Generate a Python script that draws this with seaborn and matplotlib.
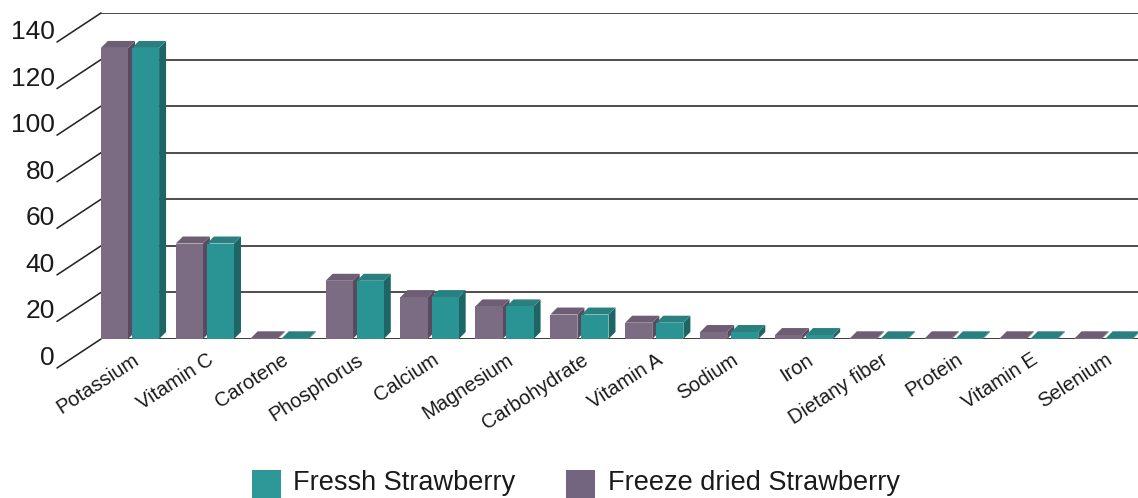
import numpy as np
import pandas as pd
import matplotlib
matplotlib.use("Agg")
import matplotlib.pyplot as plt
import seaborn as sns
from matplotlib.patches import Polygon, Rectangle
from matplotlib.transforms import ScaledTranslation

# ---------------- data ----------------
categories = ["Potassium", "Vitamin C", "Carotene", "Phosphorus", "Calcium",
              "Magnesium", "Carbohydrate", "Vitamin A", "Sodium", "Iron",
              "Dietany fiber", "Protein", "Vitamin E", "Selenium"]
freeze_dried = [125, 41, 0.3, 25, 18, 14, 10.5, 7, 3, 1.7, 0.3, 0.3, 0.3, 0.3]
fresh = [125, 41, 0.3, 25, 18, 14, 10.5, 7, 3, 1.7, 0.3, 0.3, 0.3, 0.3]
y_ticks = [0, 20, 40, 60, 80, 100, 120, 140]
series_fresh = "Fressh Strawberry"
series_freeze = "Freeze dried Strawberry"

# ---------------- style ----------------
W, H = 1138, 498
FRESH = "#2a9494"
FREEZE = "#7b6c83"
FRESH_TOP, FRESH_SIDE = "#2a8080", "#1d6665"
FREEZE_TOP, FREEZE_SIDE = "#6d5e74", "#584b5f"
GRID = "#262626"

df = pd.DataFrame({
    "nutrient": categories * 2,
    "value": freeze_dried + fresh,
    "type": [series_freeze] * len(categories) + [series_fresh] * len(categories),
})

sns.set_theme(style="white")
plt.rcParams["font.family"] = ["Liberation Sans", "DejaVu Sans"]

fig = plt.figure(figsize=(W / 100, H / 100), dpi=100)
ax_left, ax_right, ax_bottom, ax_top = 101, 1138, 339, 13
ax = fig.add_axes([ax_left / W, 1 - ax_bottom / H,
                   (ax_right - ax_left) / W, (ax_bottom - ax_top) / H])

sns.barplot(data=df, x="nutrient", y="value", hue="type",
            hue_order=[series_freeze, series_fresh],
            palette={series_freeze: FREEZE, series_fresh: FRESH},
            width=0.83, gap=0.128, saturation=1, legend=False,
            errorbar=None, linewidth=0, ax=ax)

xl, xr = -0.387, 13.458
ax.set_xlim(xl, xr)
ax.set_ylim(0, 140)
ppx = (ax_right - ax_left) / (xr - xl)
ppy = (ax_bottom - ax_top) / 140.0

for s in ax.spines.values():
    s.set_visible(False)
ax.set_xticks([])
ax.set_yticks([])
ax.set_xlabel("")
ax.set_ylabel("")
ax.patch.set_alpha(0)

# back-wall gridlines + diagonal side-wall ticks + labels
for t in y_ticks:
    ax.axhline(t, color=GRID if t > 0 else "#3a3a3a", lw=1.15 if t > 0 else 1.4, zorder=0.5)
    ax.plot([xl - 44 / ppx, xl], [t - 29 / ppy, t], color=GRID, lw=1.15,
            clip_on=False, zorder=0.5)
    ax.text(xl - 46 / ppx, t - 19 / ppy, str(t), ha="right", va="center",
            fontsize=19, color="#1a1a1a", clip_on=False)

# pseudo-3D faces
dx, dy = 7 / ppx, 7 / ppy
bars = sorted([p for p in ax.patches if isinstance(p, Rectangle)], key=lambda p: p.get_x())
for i, p in enumerate(bars):
    x0, w, h = p.get_x(), p.get_width(), p.get_height()
    fc = matplotlib.colors.to_hex(p.get_facecolor())
    is_fresh = fc.lower() == FRESH.lower()
    top_c = FRESH_TOP if is_fresh else FREEZE_TOP
    side_c = FRESH_SIDE if is_fresh else FREEZE_SIDE
    z = 2 + i * 0.01
    p.set_zorder(z + 0.002)
    side = Polygon([(x0 + w, 0), (x0 + w + dx, dy), (x0 + w + dx, h + dy), (x0 + w, h)],
                   closed=True, facecolor=side_c, edgecolor="none", zorder=z, clip_on=False)
    top = Polygon([(x0, h), (x0 + w, h), (x0 + w + dx, h + dy), (x0 + dx, h + dy)],
                  closed=True, facecolor=top_c, edgecolor="none", zorder=z + 0.001, clip_on=False)
    ax.add_patch(side)
    ax.add_patch(top)

# category labels
for i, c in enumerate(categories):
    tr = ax.transData + ScaledTranslation(7 / 100, -19 / 100, fig.dpi_scale_trans)
    ax.text(i, 0, c, transform=tr, rotation=33, rotation_mode="anchor",
            ha="right", va="center", fontsize=14.5, color="#1a1a1a", clip_on=False)

# legend (manual)
def fx(px):
    return px / W

def fy(py):
    return 1 - py / H

fig.add_artist(Rectangle((fx(252), fy(498)), 29 / W, 28 / H, transform=fig.transFigure,
                         facecolor="#2e9898", edgecolor="none"))
fig.text(fx(293), fy(483), series_fresh, ha="left", va="center", fontsize=19.5, color="#1a1a1a")
fig.add_artist(Rectangle((fx(566), fy(498)), 29 / W, 28 / H, transform=fig.transFigure,
                         facecolor="#736580", edgecolor="none"))
fig.text(fx(608), fy(483), series_freeze, ha="left", va="center", fontsize=19.5, color="#1a1a1a")

fig.savefig("out.png", dpi=100, facecolor="white")
